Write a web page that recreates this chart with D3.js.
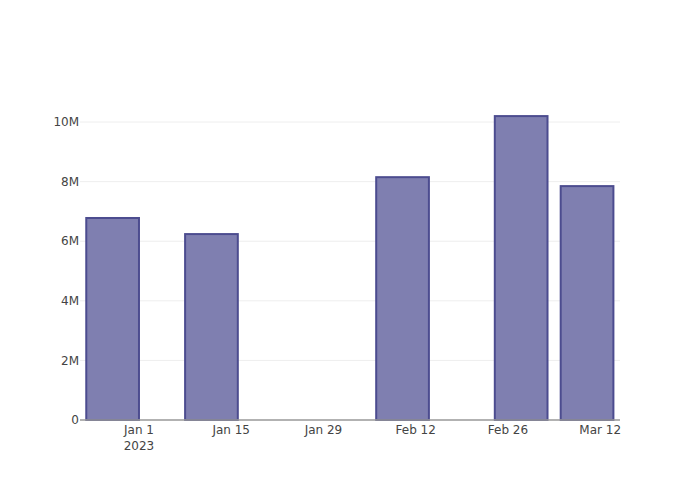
<!DOCTYPE html>
<html>
<head>
<meta charset="UTF-8">
<script src="https://d3js.org/d3.v7.min.js"></script>
<style>
  body { margin: 0; background: #fff; }
  text { font-family: "DejaVu Sans", sans-serif; font-size: 12px; fill: #444; }
</style>
</head>
<body>
<div id="chart"></div>
<script>
// data
const dates = ["2022-12-28", "2023-01-12", "2023-02-10", "2023-02-28", "2023-03-10"];
const values = [6.78e6, 6.24e6, 8.15e6, 10.2e6, 7.85e6];
const yTicks = [0, 2e6, 4e6, 6e6, 8e6, 10e6];
const yTickLabels = ["0", "2M", "4M", "6M", "8M", "10M"];
const xTicks = ["2023-01-01", "2023-01-15", "2023-01-29", "2023-02-12", "2023-02-26", "2023-03-12"];
const xTickLabels = ["Jan 1", "Jan 15", "Jan 29", "Feb 12", "Feb 26", "Mar 12"];

const width = 700, height = 500;
const margin = {top: 100, right: 80, bottom: 80, left: 80};
const parse = d3.utcParse("%Y-%m-%d");
const day = 864e5;

const svg = d3.select("#chart").append("svg")
  .attr("width", width)
  .attr("height", height);

const x = d3.scaleUtc()
  .domain([new Date(parse("2022-12-28").getTime() - 5 * day + 0.05 * day), new Date(parse("2023-03-10").getTime() + 5 * day)])
  .range([margin.left, width - margin.right]);

const y = d3.scaleLinear()
  .domain([0, 10.74e6])
  .range([height - margin.bottom, margin.top]);

// grid
svg.append("g")
  .selectAll("line")
  .data(yTicks.slice(1))
  .join("line")
  .attr("x1", margin.left)
  .attr("x2", width - margin.right)
  .attr("y1", d => y(d))
  .attr("y2", d => y(d))
  .attr("stroke", "#eee")
  .attr("stroke-width", 1);

// bars, 80% of the smallest gap (10 days)
const barW = x(parse("2023-01-09")) - x(parse("2023-01-01"));
svg.append("g")
  .selectAll("rect")
  .data(dates.map((d, i) => ({date: parse(d), v: values[i]})))
  .join("rect")
  .attr("x", d => x(d.date) - barW / 2)
  .attr("width", barW)
  .attr("y", d => y(d.v))
  .attr("height", d => y(0) - y(d.v))
  .attr("fill", "#7f7fb0")
  .attr("stroke", "#4c4c8f")
  .attr("stroke-width", 2);

// x axis line
svg.append("line")
  .attr("x1", margin.left)
  .attr("x2", width - margin.right)
  .attr("y1", y(0))
  .attr("y2", y(0))
  .attr("stroke", "#999")
  .attr("stroke-width", 1.5);

// y tick labels
svg.append("g")
  .selectAll("text")
  .data(yTicks)
  .join("text")
  .attr("x", margin.left - 1)
  .attr("y", d => y(d))
  .attr("dy", "0.35em")
  .attr("text-anchor", "end")
  .text((d, i) => yTickLabels[i]);

// x tick labels
svg.append("g")
  .selectAll("text")
  .data(xTicks)
  .join("text")
  .attr("x", d => x(parse(d)))
  .attr("y", y(0) + 14)
  .attr("text-anchor", "middle")
  .text((d, i) => xTickLabels[i]);

svg.append("text")
  .attr("x", x(parse(xTicks[0])))
  .attr("y", y(0) + 30)
  .attr("text-anchor", "middle")
  .text("2023");
</script>
</body>
</html>
